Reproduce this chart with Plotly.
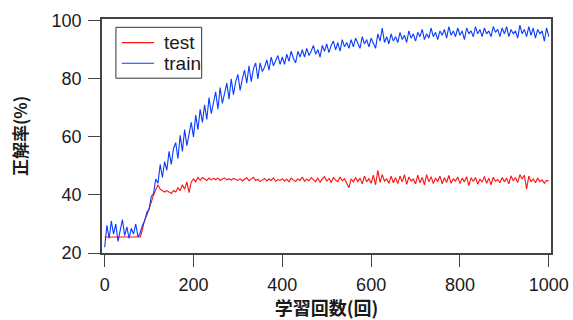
import plotly.graph_objects as go

# Learning-curve data: accuracy (%) sampled every 5 training iterations
epochs = list(range(0, 1001, 5))

train_acc = [
    22.0, 29.5, 25.0, 31.0, 26.5, 30.0, 24.0, 28.5, 31.5, 26.0,
    29.0, 25.0, 28.5, 26.5, 30.0, 25.5, 27.0, 29.5, 31.0, 34.0,
    35.0, 39.5, 40.5, 45.5, 44.0, 50.5, 46.0, 51.5, 48.5, 55.0,
    50.5, 56.0, 58.0, 52.5, 60.5, 55.0, 62.5, 57.0, 61.5, 65.0,
    60.0, 67.5, 62.5, 69.5, 65.0, 71.0, 66.0, 73.5, 68.0, 72.5,
    75.5, 69.5, 77.0, 71.5, 75.0, 78.5, 73.0, 80.0, 74.5, 79.0,
    81.5, 76.0, 80.0, 83.0, 78.5, 84.5, 79.0, 83.5, 85.5, 80.0,
    85.5, 82.5, 84.0, 86.5, 83.0, 87.5, 84.5, 86.0, 88.0, 85.0,
    87.5, 85.0, 88.5, 86.0, 89.5, 87.0, 85.5, 89.5, 87.5, 90.0,
    87.5, 90.5, 88.0, 89.5, 91.5, 88.5, 90.0, 87.5, 91.5, 89.5,
    92.0, 89.0, 91.5, 93.0, 90.0, 92.5, 89.5, 93.5, 91.0, 92.5,
    90.5, 93.5, 91.0, 94.0, 92.5, 90.5, 94.5, 92.0, 93.5, 91.0,
    94.0, 92.0, 90.5, 95.5, 93.0, 97.5, 92.5, 94.5, 92.0, 95.5,
    93.0, 94.5, 92.5, 96.0, 93.5, 95.0, 92.5, 96.5, 94.0, 95.5,
    93.0, 96.0, 94.5, 97.0, 93.5, 95.5, 94.0, 97.5, 94.5, 96.0,
    93.5, 96.5, 95.0, 97.0, 94.0, 98.0, 95.0, 96.5, 94.5, 97.5,
    95.0, 96.5, 93.5, 97.5, 95.5, 96.5, 94.5, 98.0, 95.5, 97.0,
    94.5, 97.5, 95.5, 96.5, 94.5, 98.0, 96.0, 97.0, 94.5, 97.5,
    95.5, 98.0, 94.5, 97.0, 95.5, 96.5, 94.0, 98.5, 95.5, 97.0,
    94.5, 98.0, 95.0, 97.5, 94.0, 97.0, 95.5, 96.5, 93.0, 97.5,
    94.5,
]

test_acc = [
    25.5, 25.5, 25.5, 25.5, 25.5, 25.5, 25.5, 25.5, 25.5, 25.5,
    25.5, 25.5, 25.5, 25.5, 25.5, 25.5, 25.5, 28.0, 31.5, 33.0,
    35.0, 37.5, 40.0, 42.0, 43.5, 42.0, 41.5, 41.0, 41.5, 41.0,
    40.5, 41.5, 41.0, 42.5, 41.5, 43.5, 42.0, 44.5, 40.8, 44.5,
    45.5, 44.5, 46.0, 45.0, 46.0, 45.5, 45.0, 45.8, 45.2, 45.7,
    45.3, 45.8, 45.0, 45.5, 45.9, 45.2, 45.6, 45.1, 45.7, 45.3,
    45.0, 45.6, 44.8, 45.4, 45.9, 44.9, 45.5, 46.1, 45.0, 45.4,
    44.6, 45.2, 45.7, 44.8, 45.5, 45.0, 45.9, 44.7, 45.3, 45.0,
    45.6, 44.8, 45.4, 44.5, 45.8, 45.1, 44.6, 45.5, 45.0, 46.2,
    44.7, 45.5, 44.9, 46.0, 45.2, 44.6, 45.8, 44.4, 45.5, 46.3,
    44.8, 45.7, 44.3, 46.0, 45.1, 44.6, 46.2, 44.9, 45.6, 44.2,
    42.5, 45.5, 44.5, 46.0, 44.6, 45.8, 43.8, 46.5, 44.5, 45.6,
    44.0, 46.8, 43.5, 48.5, 44.3, 47.0, 44.8, 45.5, 44.0, 46.5,
    44.2, 45.9, 43.9, 46.5, 44.5, 47.0, 43.6, 46.2, 44.8, 45.5,
    43.8, 46.8, 44.2, 46.0, 43.5, 47.0, 44.5, 46.3, 43.9, 45.8,
    44.6, 46.5, 43.8, 45.9, 44.3, 46.7, 44.0, 45.5, 44.8, 46.2,
    43.9, 45.8, 44.5, 46.3, 43.2, 45.9, 44.6, 46.0, 43.7, 45.5,
    44.4, 46.4, 44.0, 45.8, 43.5, 46.1, 44.7, 45.3, 44.2, 46.0,
    44.5, 45.8, 43.8, 46.6, 44.9, 46.0, 44.3, 47.0, 45.5, 46.8,
    42.0, 46.5, 44.5, 45.5, 44.2, 45.8, 44.6, 45.2, 44.0, 45.0,
    44.8,
]

series_names = ["test", "train"]
series_colors = ["#ff1010", "#0a3cff"]

x_ticks = [0, 200, 400, 600, 800, 1000]
y_ticks = [20, 40, 60, 80, 100]

NUM_FONT = "Liberation Sans, Arial, sans-serif"
JP_FONT = "Noto Sans CJK JP, sans-serif"
AXIS_COLOR = "#444444"
TEXT_COLOR = "#1a1a1a"

fig = go.Figure()
for name, color, values in zip(series_names, series_colors, [test_acc, train_acc]):
    fig.add_trace(go.Scatter(
        x=epochs, y=values, mode="lines", name=name,
        line=dict(color=color, width=1.1),
        showlegend=False,
    ))

axis_common = dict(
    showline=True, linecolor=AXIS_COLOR, linewidth=1.5, mirror=True,
    ticks="outside", ticklen=12, tickwidth=1.2, tickcolor=AXIS_COLOR,
    showgrid=False, zeroline=False, automargin=False,
    tickfont=dict(family=NUM_FONT, size=18, color=TEXT_COLOR),
    ticklabelstandoff=3,
)

fig.update_xaxes(
    range=[-6, 1005], tickvals=x_ticks,
    title=dict(text="<b>学習回数(回)</b>",
               font=dict(family=JP_FONT, size=18, color=TEXT_COLOR), standoff=4),
    **axis_common,
)
fig.update_yaxes(
    range=[20, 100.6], tickvals=y_ticks,
    title=dict(text="<b>正解率(%)</b>",
               font=dict(family=JP_FONT, size=17, color=TEXT_COLOR), standoff=20),
    **axis_common,
)

# Legend box drawn in the upper-left corner of the plotting area
legend_box = dict(x0=0.031, x1=0.222, y0=0.747, y1=0.9645)
legend_rows_y = [0.899, 0.811]
fig.add_shape(type="rect", xref="paper", yref="paper",
              line=dict(color="#333333", width=1), fillcolor="white",
              layer="above", **legend_box)
for name, color, ry in zip(series_names, series_colors, legend_rows_y):
    fig.add_shape(type="line", xref="paper", yref="paper",
                  x0=0.044, x1=0.116, y0=ry, y1=ry,
                  line=dict(color=color, width=1.2), layer="above")
    fig.add_annotation(xref="paper", yref="paper", x=0.133, y=ry,
                       xanchor="left", yanchor="middle", showarrow=False,
                       text=name, font=dict(family=NUM_FONT, size=19, color=TEXT_COLOR))

fig.update_layout(
    width=573, height=320,
    margin=dict(l=102, r=22, t=19, b=67),
    plot_bgcolor="white", paper_bgcolor="white",
    showlegend=False,
)

fig.write_html("out.html")
